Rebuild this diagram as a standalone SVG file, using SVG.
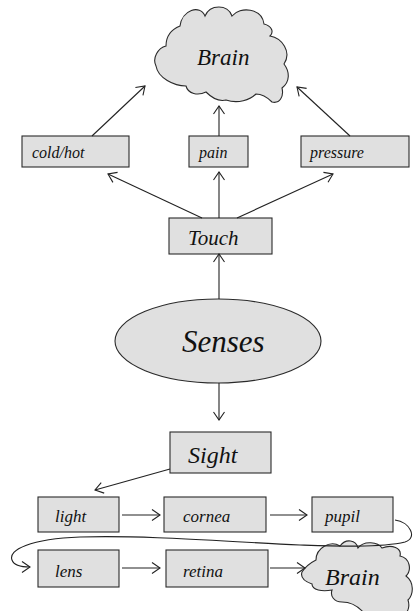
<svg xmlns="http://www.w3.org/2000/svg" width="414" height="611" viewBox="0 0 414 611">
  <defs>
    <!-- open chevron arrowhead shared by every connector -->
    <marker id="head" markerUnits="userSpaceOnUse" markerWidth="14" markerHeight="14" viewBox="-10 -7 12 14" refX="0" refY="0" orient="auto">
      <path d="M-8,-5.5 L0,0 L-8,5.5" fill="none" stroke="#222" stroke-width="1.1"/>
    </marker>
  </defs>
  <rect width="414" height="611" fill="#ffffff"/>

  <!-- nodes: shared fill/stroke set on the wrapper -->
  <g fill="#e0e0e0" stroke="#2a2a2a" stroke-width="1.1">
    <g id="brain-top">
      <path d="M 180,26 C 182,10 200,4 205,16 C 210,4 228,4 232,16 C 240,6 262,8 264,24 C 272,26 274,32 270,36 C 282,38 292,52 284,64 C 290,72 290,82 282,88 C 284,96 280,104 272,102 C 266,96 262,94 256,94 C 250,100 238,104 226,100 C 218,102 210,96 206,92 C 198,96 188,94 186,86 C 174,86 158,78 156,66 C 152,58 158,48 166,46 C 166,38 170,30 180,26 Z"/>
      <text x="197" y="65" font-size="23" font-family="Liberation Serif" font-style="italic" fill="#111" stroke="none">Brain</text>
    </g>
    <g id="cold-hot">
      <rect x="22" y="136" width="107" height="31"/>
      <text x="32" y="158" font-size="16" font-family="Liberation Serif" font-style="italic" fill="#111" stroke="none">cold/hot</text>
    </g>
    <g id="pain">
      <rect x="189" y="136" width="59" height="31"/>
      <text x="199" y="158" font-size="16" font-family="Liberation Serif" font-style="italic" fill="#111" stroke="none">pain</text>
    </g>
    <g id="pressure">
      <rect x="301" y="136" width="108" height="31"/>
      <text x="310" y="158" font-size="16" font-family="Liberation Serif" font-style="italic" fill="#111" stroke="none">pressure</text>
    </g>
    <g id="touch">
      <rect x="169" y="218" width="103" height="36"/>
      <text x="188" y="245" font-size="21" font-family="Liberation Serif" font-style="italic" fill="#111" stroke="none">Touch</text>
    </g>
    <g id="senses">
      <ellipse cx="218" cy="341" rx="103" ry="42"/>
      <text x="182" y="352" font-size="31" font-family="Liberation Serif" font-style="italic" fill="#111" stroke="none">Senses</text>
    </g>
    <g id="sight">
      <rect x="170" y="432" width="101" height="41"/>
      <text x="188" y="463" font-size="24" font-family="Liberation Serif" font-style="italic" fill="#111" stroke="none">Sight</text>
    </g>
    <g id="light">
      <rect x="38" y="497" width="81" height="35"/>
      <text x="55" y="522" font-size="17" font-family="Liberation Serif" font-style="italic" fill="#111" stroke="none">light</text>
    </g>
    <g id="cornea">
      <rect x="164" y="497" width="102" height="35"/>
      <text x="183" y="522" font-size="17" font-family="Liberation Serif" font-style="italic" fill="#111" stroke="none">cornea</text>
    </g>
    <g id="pupil">
      <rect x="312" y="497" width="81" height="35"/>
      <text x="325" y="522" font-size="17" font-family="Liberation Serif" font-style="italic" fill="#111" stroke="none">pupil</text>
    </g>
    <g id="lens">
      <rect x="38" y="550" width="81" height="37"/>
      <text x="55" y="577" font-size="17" font-family="Liberation Serif" font-style="italic" fill="#111" stroke="none">lens</text>
    </g>
    <g id="retina">
      <rect x="166" y="550" width="102" height="37"/>
      <text x="183" y="577" font-size="17" font-family="Liberation Serif" font-style="italic" fill="#111" stroke="none">retina</text>
    </g>
    <g id="brain-bottom">
      <path d="M 302,572 C 306,566 312,562 316,560 C 316,548 330,540 340,546 C 346,538 356,540 358,548 C 364,540 378,542 382,548 C 392,544 402,548 400,556 C 410,558 412,570 406,576 C 414,582 414,594 408,600 C 410,606 408,611 406,613 L 364,613 C 358,606 350,602 342,602 C 334,602 330,596 332,590 C 322,592 312,590 312,584 C 306,582 300,578 302,572 Z"/>
      <text x="325" y="585" font-size="24" font-family="Liberation Serif" font-style="italic" fill="#111" stroke="none">Brain</text>
    </g>
  </g>

  <g id="connectors" fill="none" stroke="#222" stroke-width="1.1" marker-end="url(#head)">
    <path d="M 92,136 L 145,86"/>
    <path d="M 219,136 L 219,106"/>
    <path d="M 350,136 L 297,87"/>
    <path d="M 202,218 L 108,174"/>
    <path d="M 219,218 L 219,172"/>
    <path d="M 237,218 L 333,174"/>
    <path d="M 219,299 L 219,254"/>
    <path d="M 219,383 L 219,420"/>
    <path d="M 170,469 L 95,490"/>
    <path d="M 122,515 L 160,515"/>
    <path d="M 270,515 L 307,515"/>
    <path d="M 122,568 L 160,568"/>
    <path d="M 270,568 L 305,568"/>
    <path d="M 395,520 C 410,522 418,538 405,542 C 380,548 330,546 300,545 C 230,542 150,535 80,537 C 30,539 8,550 12,560 C 14,566 22,567 30,567"/>
  </g>
</svg>
